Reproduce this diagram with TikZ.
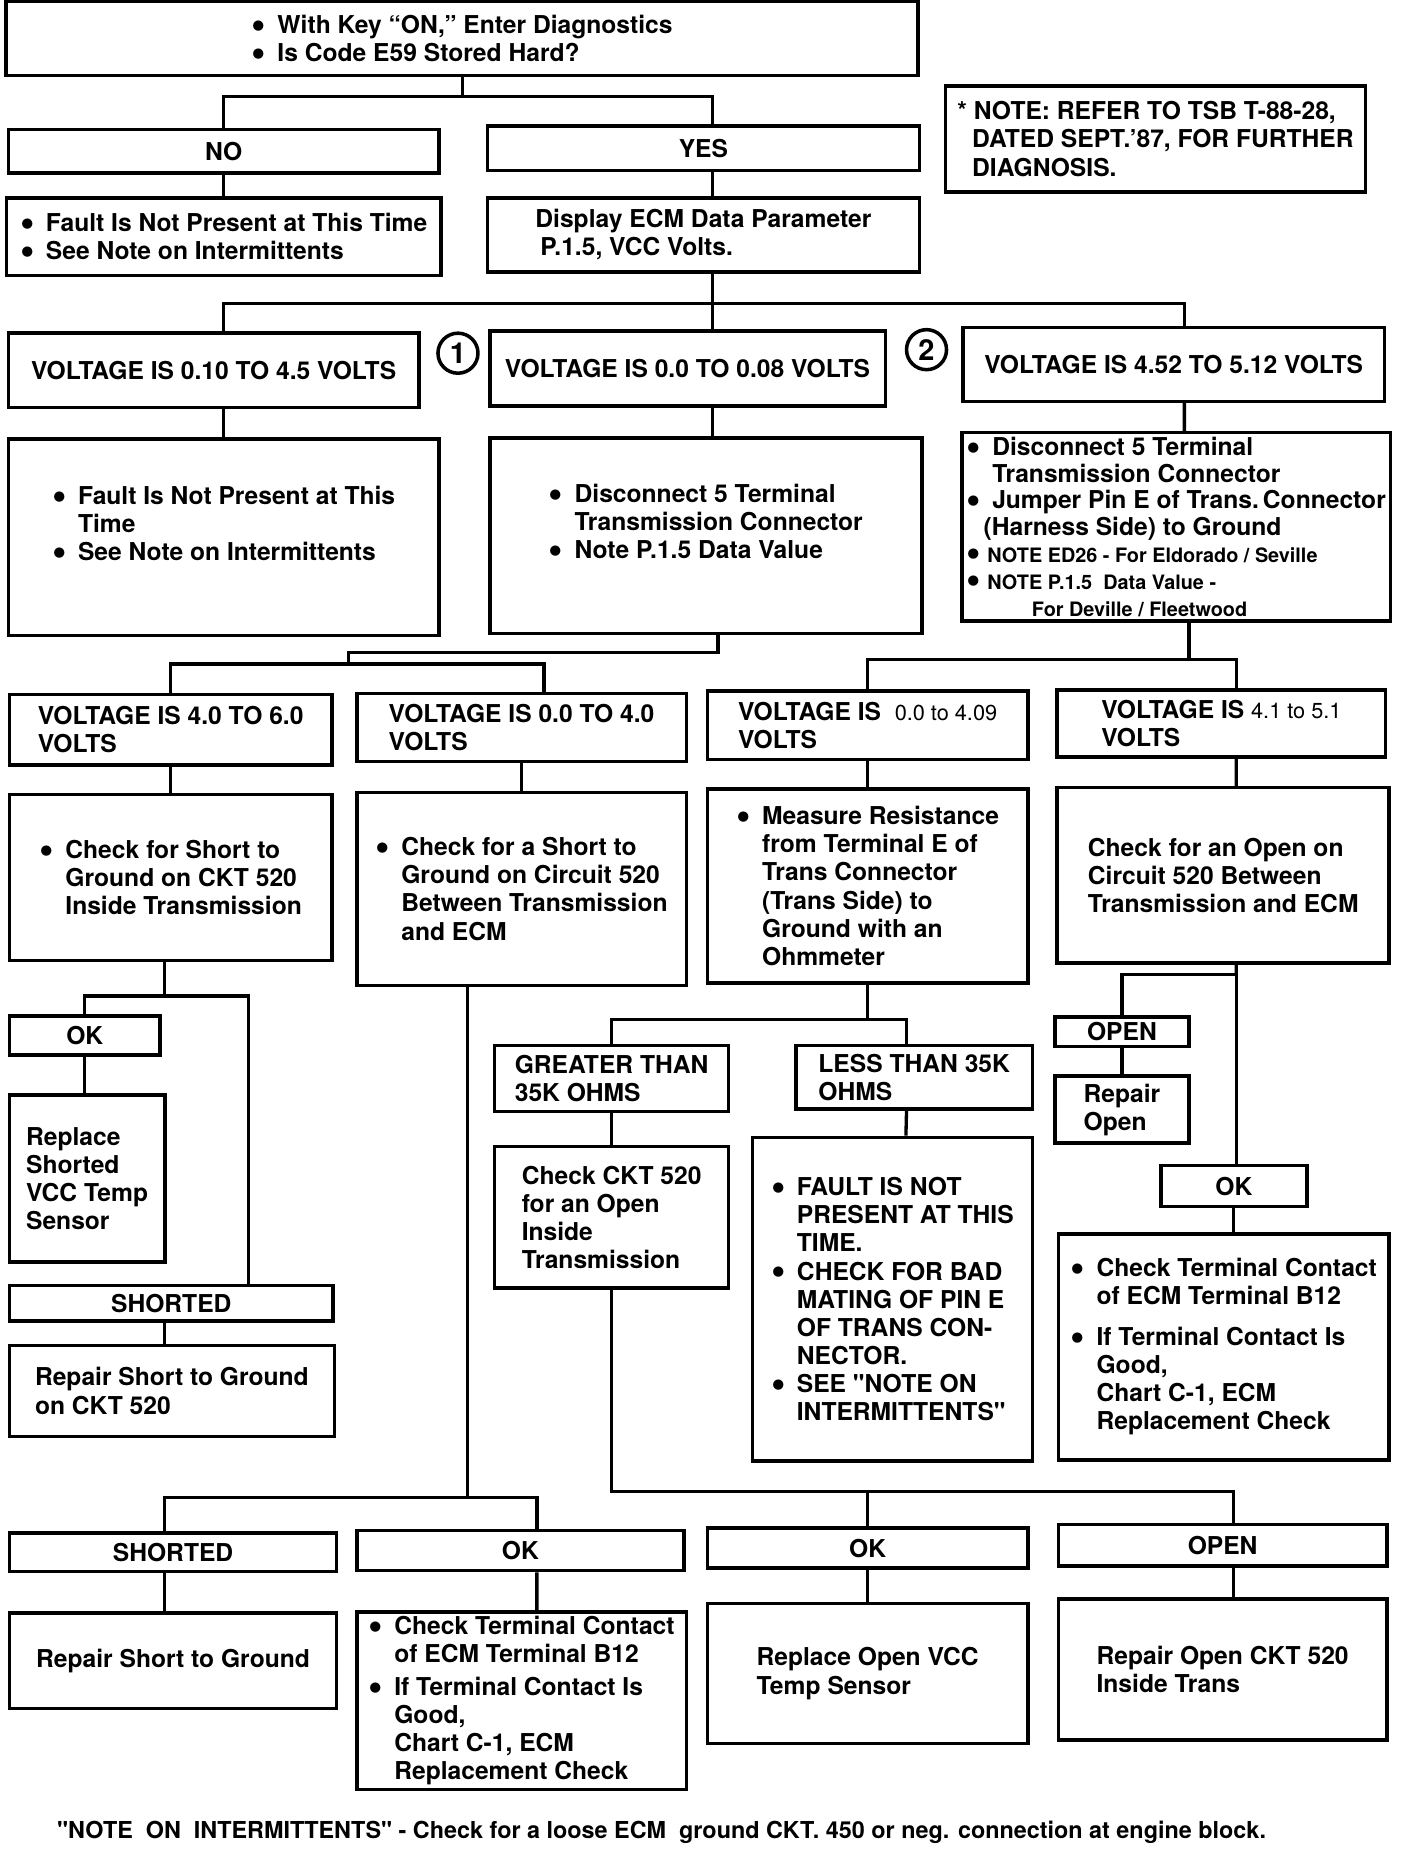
\documentclass[tikz,border=0pt]{standalone}
\usepackage{fontspec}
\setmainfont{TeX Gyre Heros}[Ligatures=TeXOff]
\usepackage{tikz}
\usetikzlibrary{positioning}
\newcommand{\bul}{\makebox[1.05em][l]{\smash{\raisebox{-0.2em}{\fontsize{20}{20}\selectfont\textbullet}}}}
\newcommand{\ind}{\hspace*{1.05em}}
\tikzstyle{block} = [draw, rectangle, line width=1.7pt, align=left, inner sep=2pt, font=\bfseries\fontsize{11.9}{13.6}\selectfont]
\tikzstyle{num} = [draw, circle, line width=1.7pt, minimum size=0.68cm, inner sep=0pt, font=\bfseries\fontsize{14}{14}\selectfont]
\tikzstyle{foot} = [inner sep=0pt, font=\bfseries\fontsize{11.3}{13.6}\selectfont]
\tikzstyle{wire} = [line width=1.6pt]

\begin{document}
\begin{tikzpicture}[x=0.02cm, y=-0.02cm]
	\useasboundingbox (0,0) rectangle (1196,1574.8);

	% top of the chart
	\node [block, minimum width=15.5cm, minimum height=1.26cm] (keyon) at (392.5,32.5) {\bul With Key “ON,” Enter Diagnostics\\ \bul Is Code E59 Stored Hard?};
	\node [block, minimum width=7.32cm, minimum height=0.74cm] (no) at (190,128.5) {NO};
	\node [block, minimum width=7.34cm, minimum height=0.76cm] (yes) at (597.5,126) {YES};
	\node [block, minimum width=7.14cm, minimum height=1.8cm] (tsbnote) at (981.5,118) {* NOTE: REFER TO TSB T-88-28,\\ \hspace*{0.6em}DATED SEPT.’87, FOR FURTHER\\ \hspace*{0.6em}DIAGNOSIS.};
	\node [block, below of=no, node distance=1.45cm, minimum width=7.38cm, minimum height=1.32cm] (nofault) {\bul Fault Is Not Present at This Time\\ \bul See Note on Intermittents};
	\node [block, below of=yes, node distance=1.47cm, minimum width=7.34cm, minimum height=1.26cm] (display) {Display ECM Data Parameter\\ \hspace*{0.2em}P.1.5, VCC Volts.};

	% three voltage ranges
	\node [block, minimum width=6.98cm, minimum height=1.26cm] (volt1) at (181.5,314.5) {VOLTAGE IS 0.10 TO 4.5 VOLTS};
	\node [num] (one) at (389,300) {1};
	\node [block, minimum width=6.72cm, minimum height=1.28cm] (volt2) at (584,313) {VOLTAGE IS 0.0 TO 0.08 VOLTS};
	\node [num] (two) at (787,297) {2};
	\node [block, minimum width=7.16cm, minimum height=1.26cm] (volt3) at (997,309.5) {VOLTAGE IS 4.52 TO 5.12 VOLTS};

	\node [block, minimum width=7.32cm, minimum height=3.34cm] (fault2) at (190,456.5) {\bul Fault Is Not Present at This\\ \ind Time\\ \bul See Note on Intermittents\\ \mbox{}};
	\node [block, minimum width=7.34cm, minimum height=3.32cm] (disc) at (599.5,455) {\bul Disconnect 5 Terminal\\ \ind Transmission Connector\\ \bul Note P.1.5 Data Value\\ \mbox{}};
	\node [block, inner xsep=1pt, minimum width=7.28cm, minimum height=3.18cm, font=\bfseries\fontsize{11.9}{13}\selectfont] (jump) at (999,447.5) {\bul Disconnect 5 Terminal\\ \ind Transmission Connector\\ \bul Jumper Pin E of Trans.\,Connector\\ \hspace*{0.7em}(Harness Side) to Ground\\ {\fontsize{9.6}{13}\selectfont\bul NOTE ED26 - For Eldorado / Seville}\\ {\fontsize{9.6}{13}\selectfont\bul NOTE P.1.5\ \ Data Value -}\\ {\fontsize{9.6}{13}\selectfont\hspace*{3.3em}For Deville / Fleetwood}};

	% second row of ranges
	\node [block, minimum width=5.48cm, minimum height=1.2cm] (va) at (145,620) {VOLTAGE IS 4.0 TO 6.0\\VOLTS};
	\node [block, minimum width=5.6cm, minimum height=1.16cm] (vb) at (443,618) {VOLTAGE IS 0.0 TO 4.0\\VOLTS};
	\node [block, minimum width=5.44cm, minimum height=1.16cm] (vc) at (737,616) {VOLTAGE IS\ \ {\mdseries\fontsize{10.5}{13.6}\selectfont 0.0 to 4.09}\\VOLTS};
	\node [block, minimum width=5.58cm, minimum height=1.14cm] (vd) at (1037.5,614.5) {VOLTAGE IS {\mdseries\fontsize{10.5}{13.6}\selectfont 4.1 to 5.1}\\VOLTS};

	\node [block, minimum width=5.48cm, minimum height=2.82cm] (sa) at (145,745.5) {\bul Check for Short to\\ \ind Ground on CKT 520\\ \ind Inside Transmission};
	\node [block, minimum width=5.6cm, minimum height=3.28cm] (sb) at (443,755) {\bul Check for a Short to\\ \ind Ground on Circuit 520\\ \ind Between Transmission\\ \ind and ECM};
	\node [block, minimum width=5.44cm, minimum height=3.3cm] (meas) at (737,752.5) {\bul Measure Resistance\\ \ind from Terminal E of\\ \ind Trans Connector\\ \ind (Trans Side) to\\ \ind Ground with an\\ \ind Ohmmeter};
	\node [block, minimum width=5.64cm, minimum height=2.98cm] (opn) at (1039,743.5) {Check for an Open\ on\\ Circuit 520 Between\\ Transmission and ECM};

	% left column
	\node [block, minimum width=2.56cm, minimum height=0.66cm] (oka) at (72,879.5) {OK};
	\node [block, minimum width=2.64cm, minimum height=2.84cm] (repl) at (74,1001) {Replace\\ Shorted\\ VCC Temp\\ Sensor};
	\node [block, minimum width=5.5cm, minimum height=0.6cm] (shorta) at (145.5,1107) {SHORTED};
	\node [block, minimum width=5.52cm, minimum height=1.54cm] (rsa) at (146,1181.5) {Repair Short to Ground\\ on CKT 520};

	% resistance check
	\node [block, minimum width=3.98cm, minimum height=1.12cm] (gt) at (519.5,916) {GREATER THAN\\35K OHMS};
	\node [block, minimum width=4.02cm, minimum height=1.08cm] (lt) at (776.5,915) {LESS THAN 35K\\OHMS};
	\node [block, minimum width=3.98cm, minimum height=2.4cm] (ckt) at (519.5,1034) {Check CKT 520\\for an Open\\Inside\\Transmission};
	\node [block, minimum width=4.76cm, minimum height=5.5cm] (flt) at (758,1103.5) {\bul FAULT IS NOT\\ \ind PRESENT AT THIS\\ \ind TIME.\\ \bul CHECK FOR BAD\\ \ind MATING OF PIN E\\ \ind OF TRANS CON-\\ \ind NECTOR.\\ \bul SEE "NOTE ON\\ \ind INTERMITTENTS"};

	% right column
	\node [block, minimum width=2.28cm, minimum height=0.5cm] (opena) at (953,876.5) {OPEN};
	\node [block, minimum width=2.28cm, minimum height=1.14cm] (ropen) at (953,942.5) {Repair\\Open};
	\node [block, minimum width=2.48cm, minimum height=0.7cm] (okd) at (1048,1007.5) {OK};
	\node [block, minimum width=5.62cm, minimum height=3.84cm] (termd) at (1039.5,1144) {\bul Check Terminal Contact\\ \ind of ECM Terminal B12\\[6pt] \bul If Terminal Contact Is\\ \ind Good,\\ \ind Chart C-1, ECM\\ \ind Replacement Check};

	% bottom row
	\node [block, minimum width=5.56cm, minimum height=0.66cm] (shortb) at (147,1318.5) {SHORTED};
	\node [block, minimum width=5.56cm, minimum height=0.68cm] (okb) at (442,1317) {OK};
	\node [block, minimum width=5.44cm, minimum height=0.68cm] (okc) at (737,1315) {OK};
	\node [block, minimum width=5.58cm, minimum height=0.7cm] (openc) at (1038.5,1312.5) {OPEN};
	\node [block, minimum width=5.56cm, minimum height=1.62cm] (rsb) at (147,1410.5) {Repair Short to Ground};
	\node [block, minimum width=5.6cm, minimum height=3.02cm] (termb) at (443,1444.5) {\bul Check Terminal Contact\\ \ind of ECM Terminal B12\\[2pt] \bul If Terminal Contact Is\\ \ind Good,\\ \ind Chart C-1, ECM\\ \ind Replacement Check};
	\node [block, minimum width=5.44cm, minimum height=2.38cm] (ropc) at (737,1421.5) {Replace Open VCC\\ Temp Sensor};
	\node [block, minimum width=5.58cm, minimum height=2.4cm] (ropd) at (1038.5,1418) {Repair Open CKT 520\\ Inside Trans};

	\node [foot] (footnote) at (562,1556) {"NOTE\ \ ON\ \ INTERMITTENTS" - Check for a loose ECM\ \ ground CKT. 450 or neg. connection at engine block.};

	% connectors
	\coordinate (s1) at (393,82);
	\draw [wire] (keyon.south -| s1) -- (s1);
	\draw [wire] (no.north) |- (s1) -| ([xshift=0.15cm]yes.north);
	\draw [wire] (no) -- (nofault);
	\draw [wire] ([xshift=0.15cm]yes.south) -- ([xshift=0.15cm]display.north);

	\coordinate (s2) at (605,258);
	\draw [wire] (display.south -| s2) -- (s2);
	\draw [wire] (volt1.north -| no) |- (s2) -| ([xshift=0.18cm]volt3.north);
	\draw [wire] (s2) -- (volt2.north -| s2);
	\draw [wire] (volt1.south -| no) -- (fault2.north -| no);
	\draw [wire] (volt2.south -| s2) -- (disc.north -| s2);
	\draw [wire] ([xshift=0.18cm]volt3.south) -- ([xshift=0.14cm]jump.north);

	\coordinate (s3) at (296,554);
	\coordinate (s4) at (296,564);
	\draw [wire] ([xshift=0.21cm]disc.south) |- (s3) -- (s4);
	\draw [wire] (va.north) |- (s4) -| ([xshift=0.38cm]vb.north);
	\coordinate (s5) at (1010,560);
	\draw [wire] (jump.south -| s5) -- (s5);
	\draw [wire] (vc.north) |- (s5) -| ([xshift=0.25cm]vd.north);

	\draw [wire] (va) -- (sa);
	\draw [wire] (vb) -- (sb);
	\draw [wire] (vc) -- (meas);
	\draw [wire] ([xshift=0.25cm]vd.south) -- ([xshift=0.22cm]opn.north);

	\coordinate (s6) at (140,846);
	\coordinate (s6r) at (211,846);
	\draw [wire] (sa.south -| s6) -- (s6);
	\draw [wire] (oka.north) |- (s6r) -- (shorta.north -| s6r);
	\draw [wire] (oka.south) -- (oka.south |- repl.north);
	\draw [wire] (shorta.south -| s6) -- (rsa.north -| s6);

	\coordinate (s7) at (397,1272);
	\draw [wire] (sb.south -| s7) -- (s7);
	\draw [wire] (shortb.north -| s6) |- (s7) -| ([xshift=0.28cm]okb.north);
	\draw [wire] (shortb.south -| s6) -- (rsb.north -| s6);
	\draw [wire] ([xshift=0.28cm]okb.south) -- ([xshift=0.26cm]termb.north);

	\coordinate (s8) at (737,866);
	\draw [wire] (meas.south) -- (s8);
	\draw [wire] (gt.north) |- (s8) -| ([xshift=-0.13cm]lt.north);
	\draw [wire] (gt) -- (ckt);
	\draw [wire] ([xshift=-0.13cm]lt.south) -- ([xshift=0.23cm]flt.north);

	\coordinate (s9) at (519.5,1267);
	\draw [wire] (ckt.south) -- (s9) -| ([xshift=0.19cm]openc.north);
	\draw [wire] (okc.north) -- (okc.north |- s9);
	\draw [wire] (okc) -- (ropc);
	\draw [wire] ([xshift=0.19cm]openc.south) -- ([xshift=0.19cm]ropd.north);

	\coordinate (s10) at (1050,828);
	\draw [wire] ([xshift=0.22cm]opn.south) -- (s10);
	\draw [wire] (opena.north) |- (s10) -- (s10 |- okd.north);
	\draw [wire] (opena) -- (ropen);
	\draw [wire] (okd.south) -- (okd.south |- termd.north);
\end{tikzpicture}
\end{document}
